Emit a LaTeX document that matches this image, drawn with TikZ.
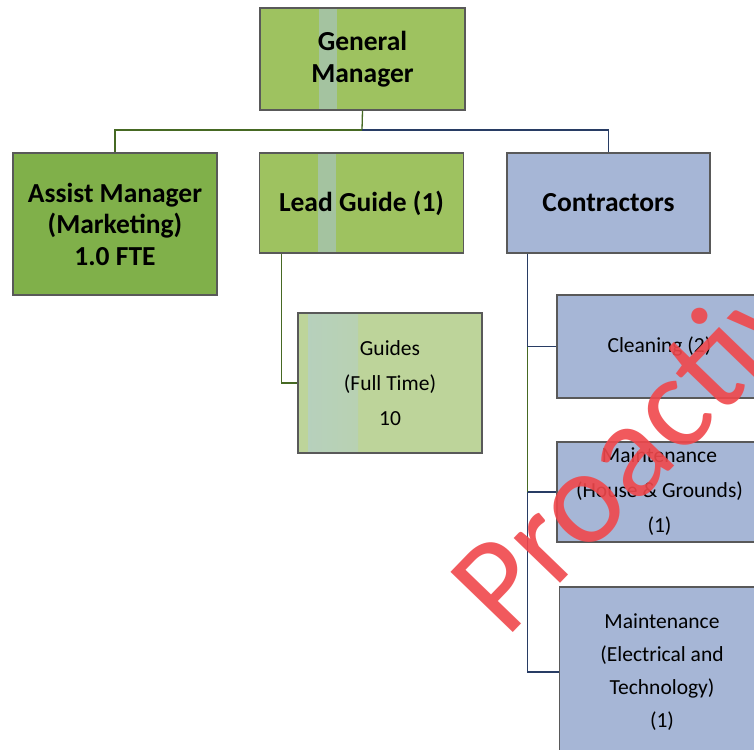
\documentclass[tikz,border=0pt]{standalone}
\usepackage{fontspec}
\setmainfont{Carlito}
\definecolor{gmgreen}{RGB}{158,194,96}
\definecolor{amgreen}{RGB}{128,176,74}
\definecolor{gdgreen}{RGB}{189,212,154}
\definecolor{ctblue}{RGB}{166,182,214}
\definecolor{stripeblue}{RGB}{170,196,214}
\definecolor{gdleft}{RGB}{182,208,190}
\definecolor{gline}{RGB}{70,105,35}
\definecolor{bline}{RGB}{40,60,100}
\definecolor{wmred}{RGB}{240,72,76}
\tikzset{
  box/.style={draw=black!65, line width=1.1pt, rectangle, align=center, inner sep=0pt},
  bigtxt/.style={font=\fontsize{27.5}{31.5}\selectfont\bfseries},
  smalltxt/.style={font=\fontsize{21.5}{35}\selectfont},
  glink/.style={draw=gline, line width=1.3pt},
  blink/.style={draw=bline, line width=1.2pt},
  stripe/.style={path picture={\fill[stripeblue,opacity=.55] ([xshift=-44pt]path picture bounding box.north) rectangle ([xshift=-26pt]path picture bounding box.south);}},
}
\begin{document}
\begin{tikzpicture}[x=1pt,y=-1pt]
\useasboundingbox (0,0) rectangle (754,749);
\clip (0,0) rectangle (754,749);
\fill[white] (0,0) rectangle (754,749);
% nodes
\node[box,bigtxt,fill=gmgreen,stripe,minimum width=205pt,minimum height=102pt] (gm) at (362.5,59) {General\\Manager};
\node[box,bigtxt,fill=amgreen,minimum width=204pt,minimum height=142pt] (am) at (115,224) {Assist Manager\\(Marketing)\\1.0 FTE};
\node[box,bigtxt,fill=gmgreen,stripe,minimum width=204pt,minimum height=100pt] (lg) at (361.5,203) {Lead Guide (1)};
\node[box,bigtxt,fill=ctblue,minimum width=203pt,minimum height=100pt] (ct) at (608.5,203) {Contractors};
\node[box,smalltxt,fill=gdgreen,minimum width=184pt,minimum height=140pt,
  path picture={\shade[left color=gdleft,right color=gdgreen] ([xshift=10pt]path picture bounding box.north west) rectangle ([xshift=60pt]path picture bounding box.south west);}] (gd) at (390,383) {Guides\\(Full Time)\\10};
\node[box,smalltxt,fill=ctblue,minimum width=205pt,minimum height=103pt] (cl) at (659.5,346.5) {Cleaning (2)};
\node[box,smalltxt,fill=ctblue,minimum width=205pt,minimum height=100pt] (mh) at (659.5,492) {Maintenance\\(House \& Grounds)\\(1)};
\node[box,fill=ctblue,minimum width=205pt,minimum height=170pt,font=\fontsize{21.5}{33}\selectfont,align=center] (et) at (662,672) {Maintenance\\(Electrical and\\Technology)\\(1)};
% connectors
\coordinate (bus) at (362,130);
\draw[glink] (gm.south) -- (bus);
\draw[glink] (bus) -| (am.north);
\draw[blink] (bus) -| (ct.north);
\draw[glink] ([xshift=-80pt]lg.south) |- (gd.west);
\coordinate (ctx) at ([xshift=-81pt]ct.south);
\draw[blink] (ctx) |- (cl.west);
\draw[glink] (ctx |- cl.west) -- (ctx |- mh.west);
\draw[blink] (ctx |- mh.west) -- (mh.west);
\draw[blink] (ctx |- mh.west) |- (et.west);
% watermark
\node[text=wmred,opacity=.9,rotate=46,anchor=base west,inner sep=0pt,font=\fontsize{135}{135}\selectfont] (wm) at (506,640) {Proactive};
\end{tikzpicture}
\end{document}
